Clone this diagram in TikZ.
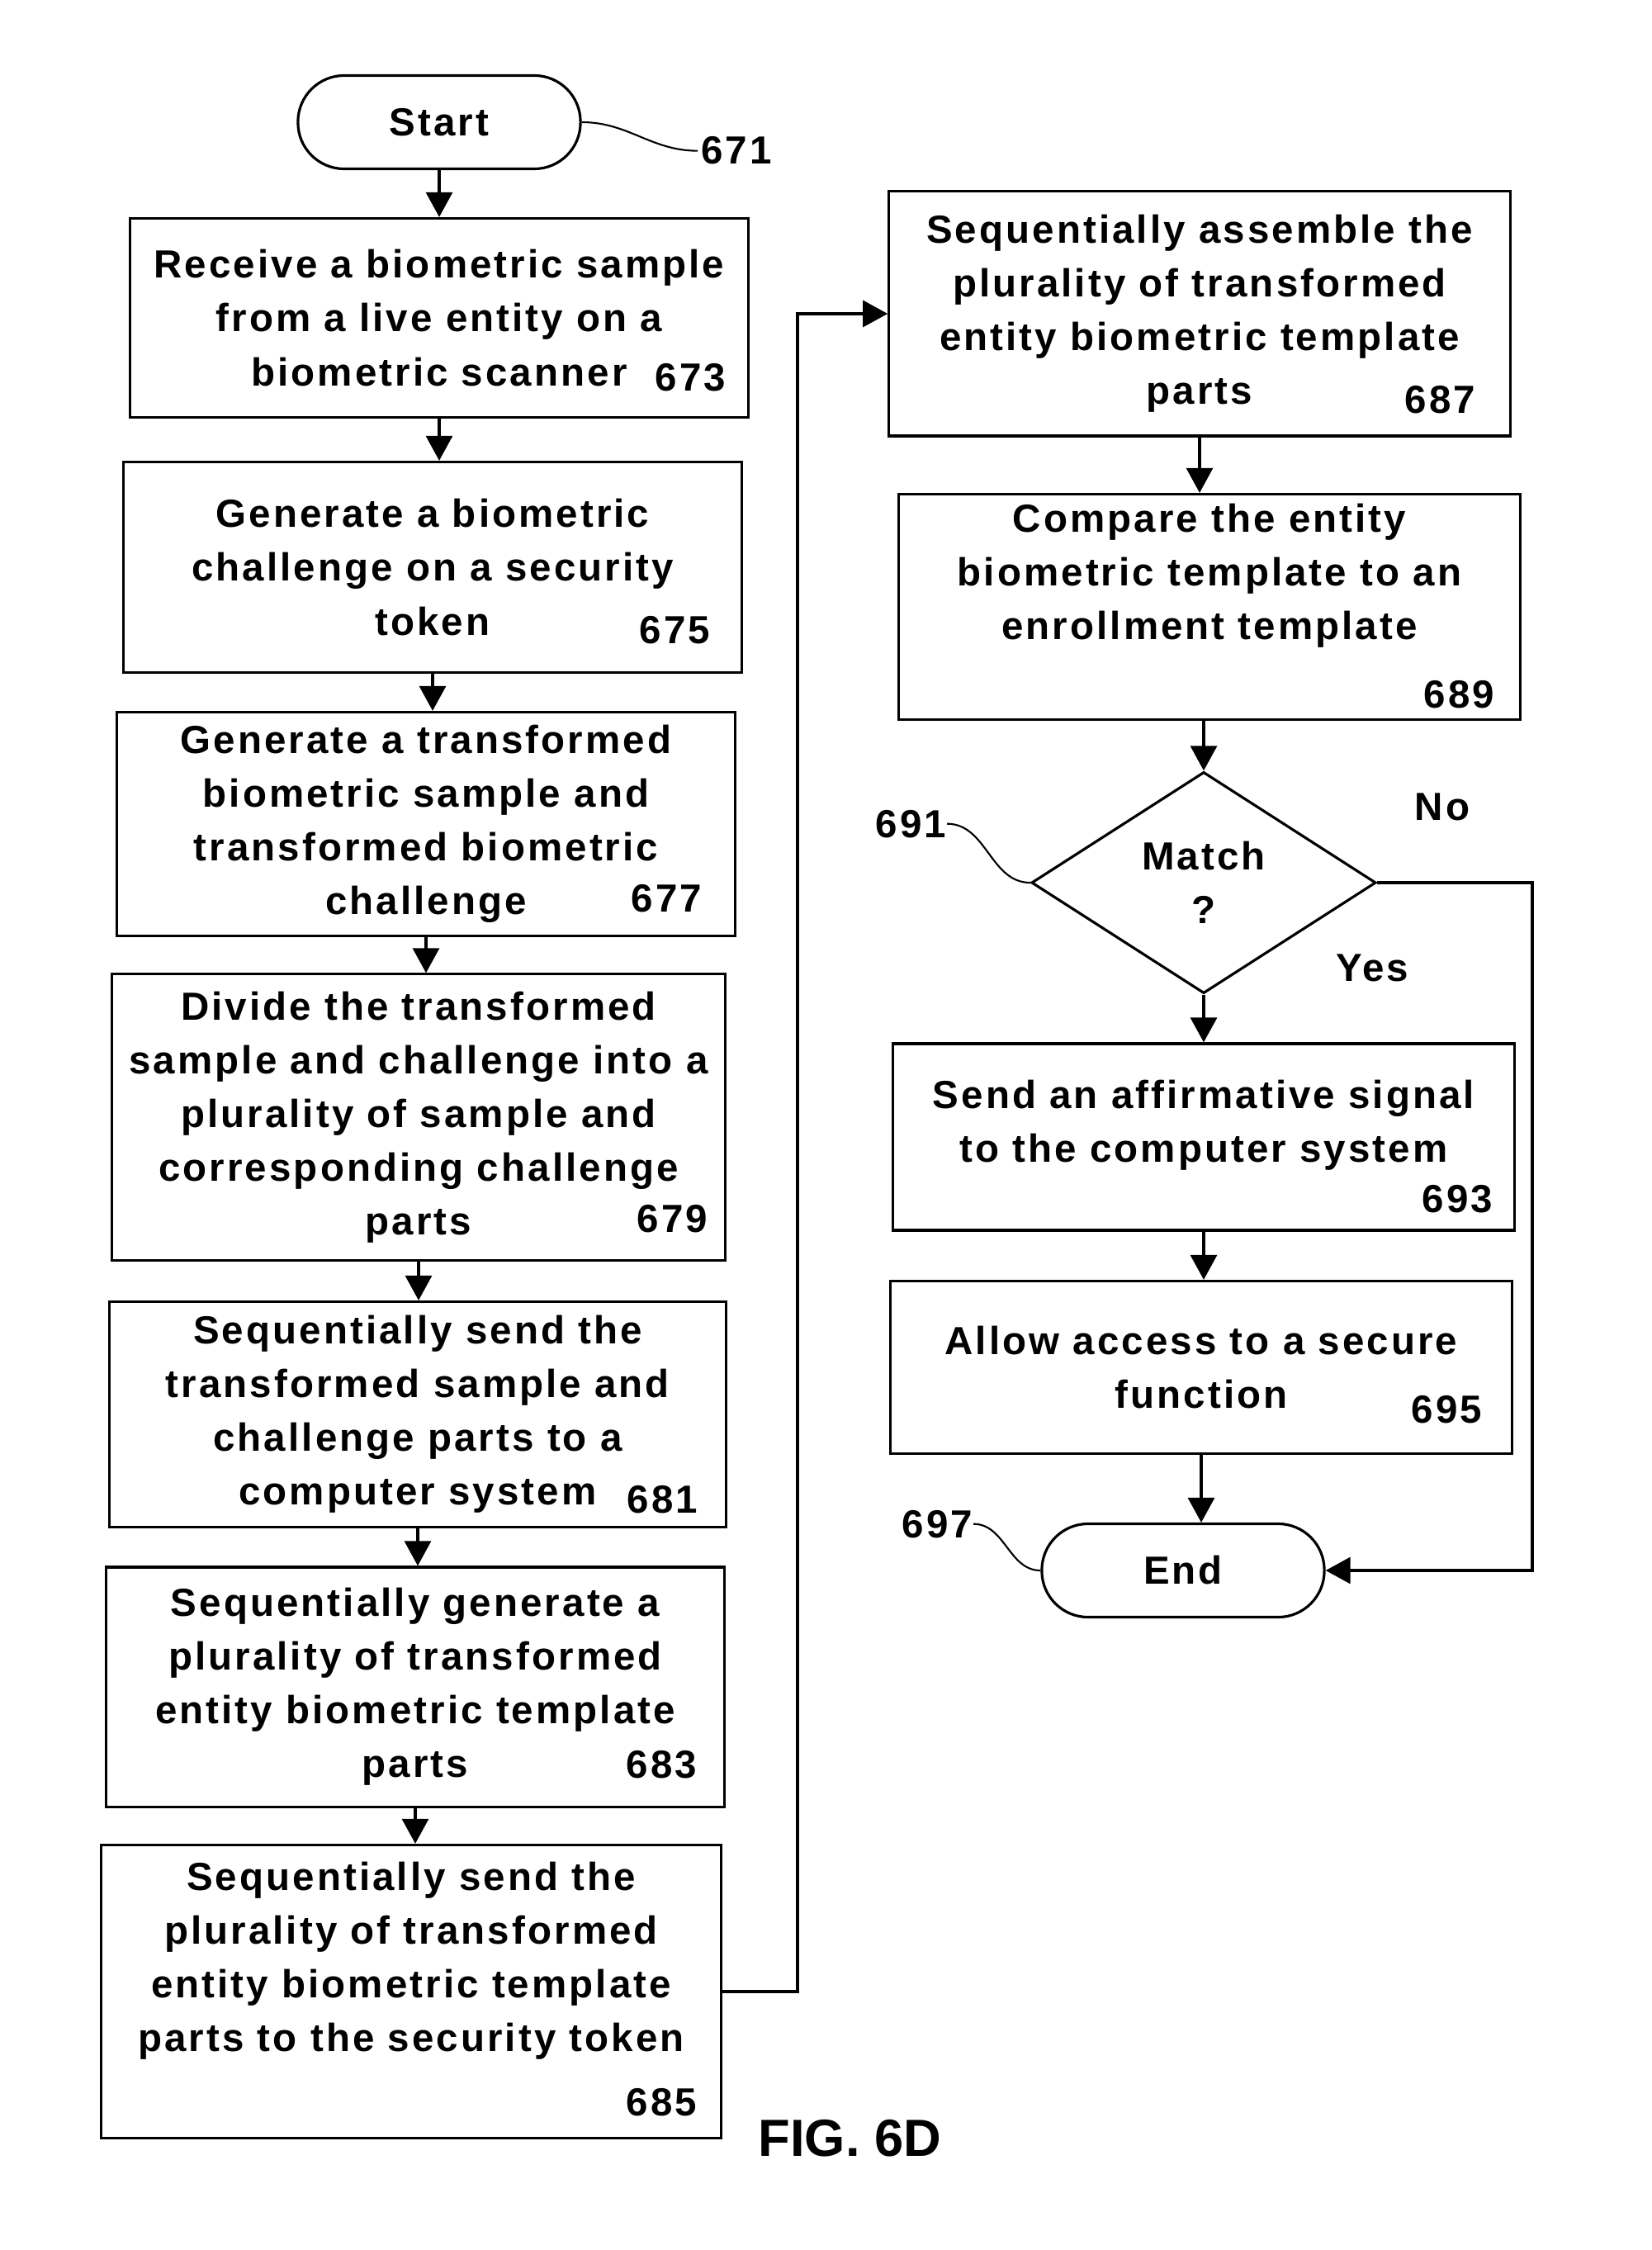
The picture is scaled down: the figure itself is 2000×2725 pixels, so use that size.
\documentclass[tikz,border=0pt]{standalone}
\usepackage{fontspec}
\setmainfont{Liberation Sans}
\newfontfamily\flowfont{Liberation Sans}[LetterSpace=6.5]
\usetikzlibrary{shapes.geometric}
\usetikzlibrary{arrows.meta}

\begin{document}
\begin{tikzpicture}[x=0.01cm,y=-0.01cm,
  every node/.style={font=\flowfont\bfseries\fontsize{13.5}{18.5}\selectfont},
  stepbox/.style={draw,line width=0.9pt,align=center,inner sep=0pt},
  term/.style={draw,line width=0.9pt,rounded corners=0.56cm,
    minimum width=3.42cm,minimum height=1.13cm,inner sep=0pt},
  ref/.style={anchor=base east,inner sep=0pt},
  lead/.style={line width=0.6pt},
  flow/.style={line width=0.9pt,-{Triangle[length=0.3cm,width=0.32cm]}}]
  \useasboundingbox (0,0) rectangle (2000,2725);

  % left column
  \node[term] (start) at (532,148) {Start};
  \node[stepbox,minimum width=7.48cm,minimum height=2.41cm] (b673) at (532,385)
    {Receive a biometric sample\\from a live entity on a\\biometric scanner};
  \node[stepbox,minimum width=7.48cm,minimum height=2.55cm] (b675) at (524,687)
    {Generate a biometric\\challenge on a security\\token};
  \node[stepbox,minimum width=7.48cm,minimum height=2.71cm] (b677) at (516,998)
    {Generate a transformed\\biometric sample and\\transformed biometric\\challenge};
  \node[stepbox,minimum width=7.42cm,minimum height=3.46cm] (b679) at (507,1353)
    {Divide the transformed\\sample and challenge into a\\plurality of sample and\\corresponding challenge\\parts};
  \node[stepbox,minimum width=7.47cm,minimum height=2.73cm] (b681) at (506,1713)
    {Sequentially send the\\transformed sample and\\challenge parts to a\\computer system};
  \node[stepbox,minimum width=7.48cm,minimum height=2.90cm] (b683) at (503,2043)
    {Sequentially generate a\\plurality of transformed\\entity biometric template\\parts};
  \node[stepbox,minimum width=7.51cm,minimum height=3.55cm] (b685) at (498,2412)
    {Sequentially send the\\plurality of transformed\\entity biometric template\\parts to the security token\\\strut};

  % right column
  \node[stepbox,minimum width=7.52cm,minimum height=2.96cm] (b687) at (1453,380)
    {Sequentially assemble the\\plurality of transformed\\entity biometric template\\parts};
  \node[stepbox,minimum width=7.53cm,minimum height=2.73cm] (b689) at (1465,735)
    {Compare the entity\\biometric template to an\\enrollment template\\\strut};
  \node[draw,diamond,line width=0.9pt,align=center,inner sep=0pt,
    minimum width=4.17cm,minimum height=2.68cm] (dia) at (1458,1069) {Match\\?};
  \node[stepbox,minimum width=7.53cm,minimum height=2.26cm,text depth=0.38cm] (b693) at (1458,1377)
    {Send an affirmative signal\\to the computer system};
  \node[stepbox,minimum width=7.53cm,minimum height=2.09cm] (b695) at (1455,1656)
    {Allow access to a secure\\function};
  \node[term] (end) at (1433,1902) {End};

  % reference numbers
  \node[ref] (n673) at (880,474) {673};
  \node[ref] (n675) at (861,780) {675};
  \node[ref] (n677) at (851,1104) {677};
  \node[ref] (n679) at (858,1492) {679};
  \node[ref] (n681) at (846,1832) {681};
  \node[ref] (n683) at (845,2153) {683};
  \node[ref] (n685) at (845,2562) {685};
  \node[ref] (n687) at (1788,501) {687};
  \node[ref] (n689) at (1811,857) {689};
  \node[ref] (n693) at (1809,1468) {693};
  \node[ref] (n695) at (1796,1723) {695};
  \node[anchor=base west,inner sep=1pt] (l671) at (845,199) {671};
  \node[ref] (l691) at (1147,1014) {691};
  \node[ref] (l697) at (1179,1862) {697};
  \node[anchor=base] (no) at (1747,993) {No};
  \node[anchor=base] (yes) at (1662,1188) {Yes};
  \node[anchor=base west,inner sep=0pt,font=\bfseries\fontsize{18}{22}\selectfont]
    (fig) at (918,2611) {FIG. 6D};

  % leaders
  \draw[lead] (start.east) to[out=0,in=180] (l671.west);
  \draw[lead] (l691.east) to[out=0,in=180] (dia.west);
  \draw[lead] (l697.east) to[out=0,in=180] (end.west);

  % flow
  \draw[flow] (start.south) -- (start.south |- b673.north);
  \draw[flow] (b673.south) -- (b673.south |- b675.north);
  \draw[flow] (b675.south) -- (b675.south |- b677.north);
  \draw[flow] (b677.south) -- (b677.south |- b679.north);
  \draw[flow] (b679.south) -- (b679.south |- b681.north);
  \draw[flow] (b681.south) -- (b681.south |- b683.north);
  \draw[flow] (b683.south) -- (b683.south |- b685.north);
  \coordinate (jump) at (966,2412);
  \draw[flow] (b685.east) -- (jump) |- (b687.west);
  \draw[flow] (b687.south) -- (b687.south |- b689.north);
  \draw[flow] (dia.north |- b689.south) -- (dia.north);
  \draw[flow] (dia.south) -- (dia.south |- b693.north);
  \draw[flow] (b693.south) -- (b693.south |- b695.north);
  \draw[flow] (b695.south) -- (b695.south |- end.north);
  \coordinate (nocorner) at (1856,1069);
  \draw[flow] (dia.east) -- (nocorner) |- (end.east);
\end{tikzpicture}
\end{document}
